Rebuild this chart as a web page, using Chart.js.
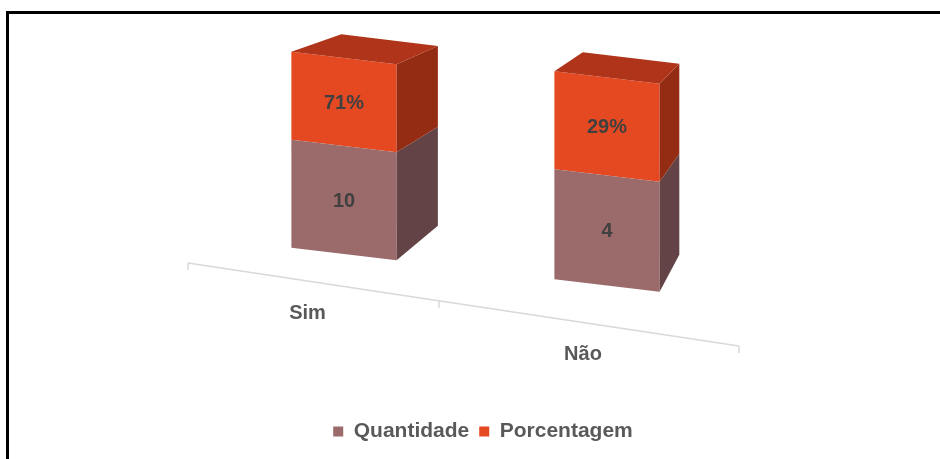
<!DOCTYPE html>
<html>
<head>
<meta charset="utf-8">
<script src="https://cdn.jsdelivr.net/npm/chart.js@4.4.0/dist/chart.umd.min.js"></script>
<style>
    html, body { margin: 0; padding: 0; background: #fff; }
    body { width: 940px; height: 459px; position: relative; overflow: hidden; }
    #frame { position: absolute; left: 6px; top: 11px; right: -10px; bottom: -10px; border-top: 3px solid #000; border-left: 3px solid #000; }
    #wrap { position: absolute; left: 0; top: 0; width: 940px; height: 459px; }
</style>
</head>
<body>
<div id="frame"></div>
<div id="wrap"><canvas id="chart"></canvas></div>
<script>
const categories = ['Sim', 'Não'];
const quantidadeLabels = ['10', '4'];
const porcentagemLabels = ['71%', '29%'];
// heights of the visible segments
const quantidadeHeights = [54, 55];
const porcentagemHeights = [44, 49];

(function () {
    'use strict';

    const FONT = "'Liberation Sans', Arial, sans-serif";
    const SKEW = 0.12;       // slope of the front faces
    const SHIFT_X = 12.5;    // bars sit a bit to the right of the axis categories
    const VP = { x: 900, y: -160 };  // vanishing point for the back faces
    const DEPTH = 0.918;
    const AXIS_SLOPE = 0.1506;

    function toScreen(chart, x, y) {
        const ref = chart.scales.x.getPixelForValue(0);
        return { x: x + SHIFT_X, y: y + SKEW * (x - ref) };
    }

    function toBack(p) {
        return { x: VP.x + DEPTH * (p.x - VP.x), y: VP.y + DEPTH * (p.y - VP.y) };
    }

    function poly(ctx, pts, color) {
        ctx.beginPath();
        ctx.moveTo(pts[0].x, pts[0].y);
        for (let i = 1; i < pts.length; i++) ctx.lineTo(pts[i].x, pts[i].y);
        ctx.closePath();
        ctx.fillStyle = color;
        ctx.fill();
    }

    const bar3d = {
        id: 'bar3d',
        beforeDatasetsDraw(chart) {
            const ctx = chart.ctx;
            const ref = chart.scales.x.getPixelForValue(0);
            ctx.save();
            ctx.transform(1, SKEW, 0, 1, SHIFT_X, -SKEW * ref);
        },
        afterDatasetsDraw(chart) {
            const ctx = chart.ctx;
            ctx.restore();
            const n = chart.data.datasets.length;

            chart.data.datasets.forEach((ds, di) => {
                chart.getDatasetMeta(di).data.forEach(bar => {
                    const p = bar.getProps(['x', 'y', 'base', 'width'], true);
                    const l = p.x - p.width / 2, r = p.x + p.width / 2;
                    const tl = toScreen(chart, l, p.y);
                    const tr = toScreen(chart, r, p.y);
                    const br = toScreen(chart, r, p.base);
                    poly(ctx, [tr, br, toBack(br), toBack(tr)], ds.sideColor);
                    if (di === n - 1) {
                        poly(ctx, [tl, tr, toBack(tr), toBack(tl)], ds.topColor);
                    }
                });
            });

            // value labels on the front faces
            ctx.save();
            ctx.font = 'bold 20px ' + FONT;
            ctx.fillStyle = '#404040';
            ctx.textAlign = 'center';
            ctx.textBaseline = 'middle';
            chart.data.datasets.forEach((ds, di) => {
                chart.getDatasetMeta(di).data.forEach((bar, i) => {
                    const p = bar.getProps(['x', 'y', 'base'], true);
                    const c = toScreen(chart, p.x, (p.y + p.base) / 2);
                    ctx.fillText(ds.valueLabels[i], c.x, c.y + 1);
                });
            });
            ctx.restore();
        },
        afterDraw(chart) {
            const ctx = chart.ctx;
            const xs = chart.scales.x;
            const base = chart.scales.y.getPixelForValue(0);
            const x0 = xs.left - 12;
            const x2 = xs.right + 13;
            const x1 = (xs.getPixelForValue(0) + xs.getPixelForValue(1)) / 2 - 24;
            const lineY = x => base + 9 + AXIS_SLOPE * (x - x0);

            ctx.save();
            ctx.strokeStyle = '#d9d9d9';
            ctx.lineWidth = 1.5;
            ctx.beginPath();
            ctx.moveTo(x0, lineY(x0));
            ctx.lineTo(x2, lineY(x2));
            [x0, x1, x2].forEach(x => {
                ctx.moveTo(x, lineY(x));
                ctx.lineTo(x, lineY(x) + 7);
            });
            ctx.stroke();

            ctx.font = 'bold 20px ' + FONT;
            ctx.fillStyle = '#595959';
            ctx.textAlign = 'center';
            ctx.textBaseline = 'middle';
            const centers = [(x0 + x1) / 2 - 6, (x1 + x2) / 2 - 6];
            categories.forEach((label, i) => {
                ctx.fillText(label, centers[i], lineY(centers[i]) + 32);
            });
            ctx.restore();
        }
    };

    const hiddenAxis = {
        display: true,
        grid: { display: false },
        border: { display: false },
        ticks: { display: false }
    };

    new Chart(document.getElementById('chart'), {
        type: 'bar',
        data: {
            labels: categories,
            datasets: [
                {
                    label: 'Quantidade',
                    data: quantidadeHeights,
                    valueLabels: quantidadeLabels,
                    backgroundColor: '#9b6a6a',
                    sideColor: '#634345',
                    topColor: '#7d5556',
                    borderWidth: 0,
                    clip: false
                },
                {
                    label: 'Porcentagem',
                    data: porcentagemHeights,
                    valueLabels: porcentagemLabels,
                    backgroundColor: '#e54921',
                    sideColor: '#942c14',
                    topColor: '#b0341a',
                    borderWidth: 0,
                    clip: false
                }
            ]
        },
        options: {
            responsive: true,
            maintainAspectRatio: false,
            animation: false,
            devicePixelRatio: 1,
            layout: { padding: { left: 26, right: 0, top: 34, bottom: 7 } },
            datasets: { bar: { categoryPercentage: 1, barPercentage: 0.4 } },
            plugins: {
                tooltip: { enabled: false },
                legend: {
                    position: 'bottom',
                    labels: {
                        boxWidth: 10,
                        boxHeight: 10,
                        padding: 10,
                        color: '#595959',
                        font: { family: FONT, size: 21, weight: 'bold' }
                    }
                }
            },
            scales: {
                x: Object.assign({}, hiddenAxis, {
                    stacked: true,
                    afterFit: axis => { axis.height = 157; }
                }),
                y: Object.assign({}, hiddenAxis, {
                    stacked: true,
                    min: 0,
                    max: 110,
                    afterFit: axis => { axis.width = 174; }
                }),
                y2: Object.assign({}, hiddenAxis, {
                    type: 'linear',
                    position: 'right',
                    min: 0,
                    max: 110,
                    afterFit: axis => { axis.width = 214; }
                })
            }
        },
        plugins: [bar3d]
    });
})();
</script>
</body>
</html>
